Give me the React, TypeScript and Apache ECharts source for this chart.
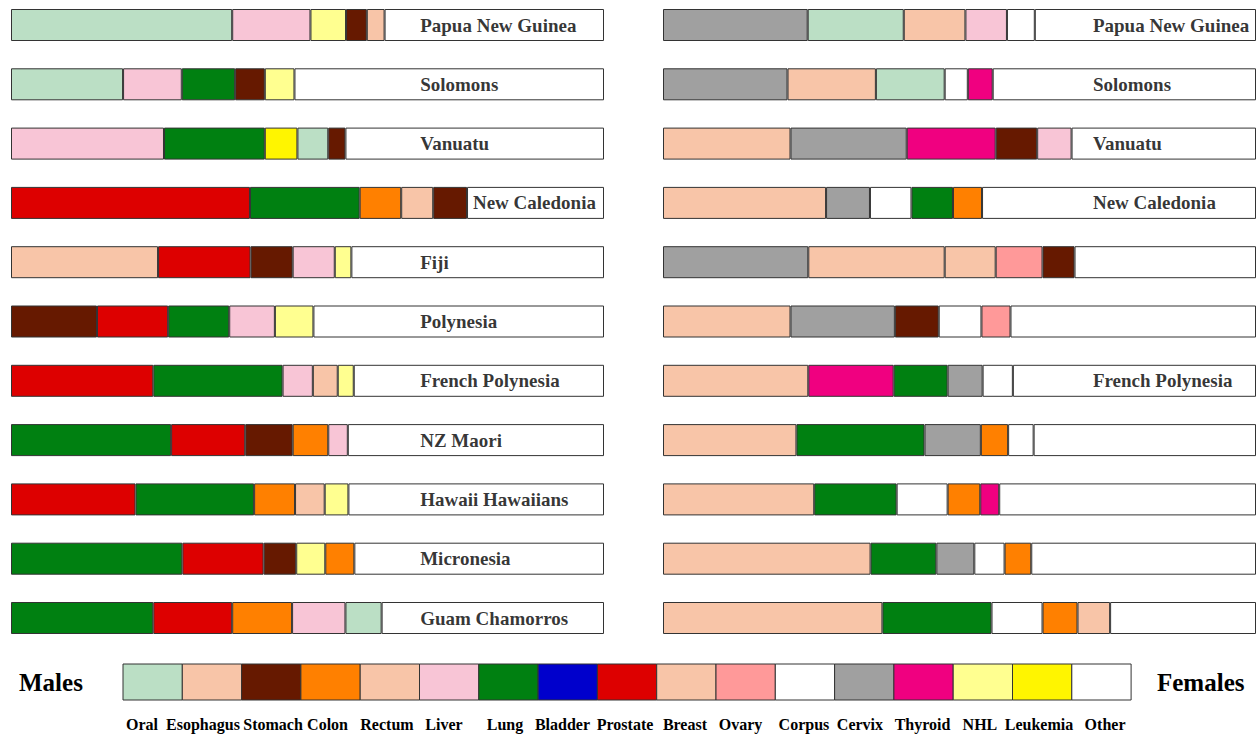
import React, { useEffect, useRef } from 'react';
import * as echarts from 'echarts';

const countries = [
  'Papua New Guinea', 'Solomons', 'Vanuatu', 'New Caledonia', 'Fiji', 'Polynesia',
  'French Polynesia', 'NZ Maori', 'Hawaii Hawaiians', 'Micronesia', 'Guam Chamorros',
];

const cancerTypes = [
  'Oral', 'Esophagus', 'Stomach', 'Colon', 'Rectum', 'Liver', 'Lung', 'Bladder', 'Prostate',
  'Breast', 'Ovary', 'Corpus', 'Cervix', 'Thyroid', 'NHL', 'Leukemia', 'Other',
];
const cancerColors = [
  '#BBDFC5', '#F8C5A8', '#661900', '#FF8000', '#F8C5A8', '#F8C5D6', '#008011', '#0000CC', '#DD0000',
  '#F8C5A8', '#FF9999', '#FFFFFF', '#A0A0A0', '#F00080', '#FFFF90', '#FFF500', '#FFFFFF',
];

// Males: five leading sites per population (share of all cancers, %)
const maleSites = [
  ['Oral', 'Liver', 'NHL', 'Stomach', 'Esophagus'],
  ['Oral', 'Liver', 'Lung', 'Stomach', 'NHL'],
  ['Liver', 'Lung', 'Leukemia', 'Oral', 'Stomach'],
  ['Prostate', 'Lung', 'Colon', 'Rectum', 'Stomach'],
  ['Rectum', 'Prostate', 'Stomach', 'Liver', 'NHL'],
  ['Stomach', 'Prostate', 'Lung', 'Liver', 'NHL'],
  ['Prostate', 'Lung', 'Liver', 'Rectum', 'NHL'],
  ['Lung', 'Prostate', 'Stomach', 'Colon', 'Liver'],
  ['Prostate', 'Lung', 'Colon', 'Rectum', 'NHL'],
  ['Lung', 'Prostate', 'Stomach', 'NHL', 'Colon'],
  ['Lung', 'Prostate', 'Colon', 'Liver', 'Oral'],
];
const maleShares = [
  [37.3, 13.2, 6.0, 3.5, 3.0],
  [18.9, 9.9, 9.0, 5.0, 5.0],
  [25.8, 17.0, 5.5, 5.2, 2.9],
  [40.3, 18.5, 7.0, 5.4, 5.7],
  [24.8, 15.6, 7.1, 7.1, 2.8],
  [14.5, 12.0, 10.3, 7.7, 6.5],
  [24.0, 21.8, 5.1, 4.2, 2.7],
  [27.0, 12.5, 8.0, 6.0, 3.3],
  [21.0, 20.0, 6.9, 5.0, 4.0],
  [28.9, 13.7, 5.5, 4.9, 4.9],
  [24.0, 13.3, 10.1, 9.0, 6.1],
];

// Females
const femaleSites = [
  ['Cervix', 'Oral', 'Breast', 'Liver', 'Corpus'],
  ['Cervix', 'Breast', 'Oral', 'Corpus', 'Thyroid'],
  ['Breast', 'Cervix', 'Thyroid', 'Stomach', 'Liver'],
  ['Breast', 'Cervix', 'Corpus', 'Lung', 'Colon'],
  ['Cervix', 'Breast', 'Rectum', 'Ovary', 'Stomach'],
  ['Breast', 'Cervix', 'Stomach', 'Corpus', 'Ovary'],
  ['Breast', 'Thyroid', 'Lung', 'Cervix', 'Corpus'],
  ['Breast', 'Lung', 'Cervix', 'Colon', 'Corpus'],
  ['Breast', 'Lung', 'Corpus', 'Colon', 'Thyroid'],
  ['Breast', 'Lung', 'Cervix', 'Corpus', 'Colon'],
  ['Breast', 'Lung', 'Corpus', 'Colon', 'Rectum'],
];
const femaleShares = [
  [24.4, 16.2, 10.4, 7.0, 4.7],
  [21.0, 14.9, 11.6, 3.9, 4.2],
  [21.5, 19.6, 15.0, 7.0, 5.8],
  [27.5, 7.4, 7.0, 7.0, 4.9],
  [24.5, 23.0, 8.6, 7.9, 5.4],
  [21.5, 17.6, 7.4, 7.2, 4.9],
  [24.5, 14.4, 9.1, 5.9, 5.1],
  [22.5, 21.6, 9.5, 4.6, 4.3],
  [25.5, 13.9, 8.6, 5.5, 3.2],
  [35.0, 11.1, 6.4, 5.1, 4.5],
  [37.0, 18.4, 8.6, 5.9, 5.5],
];

const maleLabels = countries.slice();
const femaleLabels = [
  'Papua New Guinea', 'Solomons', 'Vanuatu', 'New Caledonia', '', '',
  'French Polynesia', '', '', '', '',
];

const FONT = "'Liberation Serif', 'Times New Roman', serif";
const BORDER = '#333333';

function colorOf(site: string): string {
  const i = cancerTypes.indexOf(site);
  return i >= 0 ? cancerColors[i] : '#FFFFFF';
}

function buildPanel(
  gridIndex: number,
  sites: string[][],
  shares: number[][],
  labels: string[],
  labelMinX: number,
  stack: string,
) {
  const series: any[] = [];
  const slots = Math.max(...shares.map((r) => r.length));
  for (let k = 0; k < slots; k++) {
    series.push({
      type: 'bar',
      stack,
      xAxisIndex: gridIndex,
      yAxisIndex: gridIndex,
      barWidth: 32,
      itemStyle: { borderColor: BORDER, borderWidth: 1 },
      data: countries.map((c, i) => ({
        name: sites[i][k],
        value: shares[i][k] ?? 0,
        itemStyle: { color: colorOf(sites[i][k]), borderColor: BORDER, borderWidth: 1 },
      })),
    });
  }
  const sums = shares.map((r) => r.reduce((a, b) => a + b, 0));
  series.push({
    type: 'bar',
    stack,
    xAxisIndex: gridIndex,
    yAxisIndex: gridIndex,
    barWidth: 32,
    data: countries.map((c, i) => ({
      name: 'Other',
      value: 100 - sums[i],
      itemStyle: { color: colorOf('Other'), borderColor: BORDER, borderWidth: 1 },
    })),
  });
  series.push({
    type: 'scatter',
    xAxisIndex: gridIndex,
    yAxisIndex: gridIndex,
    symbolSize: 0,
    silent: true,
    z: 10,
    label: {
      show: true,
      position: 'right',
      distance: 0,
      formatter: '{b}',
      color: '#000',
      fontFamily: FONT,
      fontWeight: 'bold',
      fontSize: 19,
    },
    data: labels
      .map((name, i) => ({ name, value: [Math.max(labelMinX, sums[i] + 1.0), i] }))
      .filter((d) => d.name !== ''),
  });
  return series;
}

export default function App() {
  const ref = useRef<HTMLDivElement>(null);

  useEffect(() => {
    if (!ref.current) return;
    const chart = echarts.init(ref.current, null, { renderer: 'svg' });

    const gridTop = -4.65;
    const gridHeight = 652.3;
    const panelWidth = 593;
    const lefts = [11, 663];

    const legendX0 = 123;
    const legendW = 59.3;
    const legendY = 664;
    const legendH = 36;
    // horizontal nudges of the legend captions relative to their box centres
    const captionShift = [-10.6, -9, 1.8, -3, -2.9, -5.2, -3.5, -5.3, -2, -1.4, -5.2, -1, -4.3, -1, -2.9, -3.2, 3.6];

    const graphics: any[] = [];
    cancerTypes.forEach((name, i) => {
      graphics.push({
        type: 'rect',
        shape: { x: legendX0 + i * legendW, y: legendY, width: legendW, height: legendH },
        style: { fill: cancerColors[i], stroke: BORDER, lineWidth: 1 },
        silent: true,
      });
      graphics.push({
        type: 'text',
        x: legendX0 + i * legendW + legendW / 2 + (captionShift[i] || 0),
        y: 724,
        style: {
          text: name,
          fill: '#000',
          font: `bold 16px ${FONT}`,
          align: 'center',
          verticalAlign: 'middle',
        },
        silent: true,
      });
    });
    graphics.push({
      type: 'text',
      x: 19,
      y: 682,
      style: { text: 'Males', fill: '#000', font: `bold 25px ${FONT}`, align: 'left', verticalAlign: 'middle' },
    });
    graphics.push({
      type: 'text',
      x: 1157,
      y: 682,
      style: { text: 'Females', fill: '#000', font: `bold 25px ${FONT}`, align: 'left', verticalAlign: 'middle' },
    });

    const option: any = {
      animation: false,
      backgroundColor: '#FFFFFF',
      grid: lefts.map((l) => ({
        left: l,
        top: gridTop,
        width: panelWidth,
        height: gridHeight,
        containLabel: false,
        outerBoundsMode: 'none',
      })),
      xAxis: lefts.map((_, i) => ({
        type: 'value',
        gridIndex: i,
        min: 0,
        max: 100,
        show: false,
      })),
      yAxis: lefts.map((_, i) => ({
        type: 'category',
        gridIndex: i,
        data: countries,
        inverse: true,
        show: false,
      })),
      series: [
        ...buildPanel(0, maleSites, maleShares, maleLabels, 69.0, 'males'),
        ...buildPanel(1, femaleSites, femaleShares, femaleLabels, 72.5, 'females'),
      ],
      graphic: graphics,
    };

    chart.setOption(option);
    return () => chart.dispose();
  }, []);

  return (
    <div
      ref={ref}
      style={{ position: 'fixed', left: 0, top: 0, width: 1258, height: 735, background: '#fff' }}
    />
  );
}
